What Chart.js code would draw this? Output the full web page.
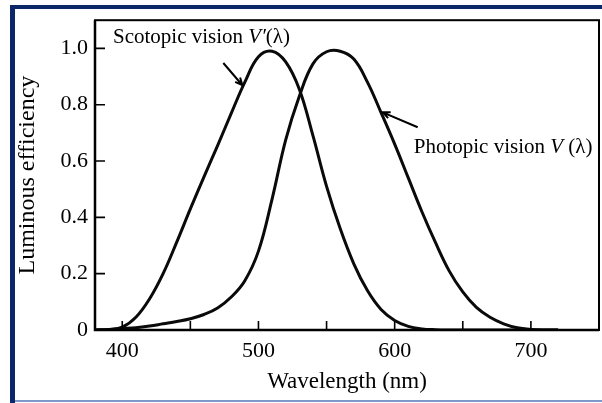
<!DOCTYPE html>
<html>
<head>
<meta charset="utf-8">
<script src="https://cdn.jsdelivr.net/npm/chart.js@4/dist/chart.umd.min.js"></script>
<style>
  html, body { margin: 0; padding: 0; background: #fff; overflow: hidden; }
  canvas { display: block; }
</style>
</head>
<body>
<canvas id="chart" width="602" height="403"></canvas>
<script>
// Wavelength grid (nm) and relative luminous efficiency of the eye
const wavelengths = [380, 390, 400, 410, 420, 430, 440, 450, 460, 470, 480, 490, 500, 510,
                     520, 530, 540, 550, 560, 570, 580, 590, 600, 610, 620, 630, 640, 650,
                     660, 670, 680, 690, 700, 710, 720];
// Scotopic (rod, night) vision V'(λ)
const scotopic = [0, 0.002, 0.01, 0.045, 0.11, 0.2, 0.312, 0.43, 0.544, 0.655, 0.769, 0.88, 0.97, 0.99,
                  0.952, 0.855, 0.69, 0.51, 0.36, 0.235, 0.14, 0.073, 0.034, 0.013, 0.004, 0.001, 0, 0,
                  0, 0, 0, 0, 0, 0, 0];
// Photopic (cone, day) vision V(λ)
const photopic = [0, 0.002, 0.005, 0.008, 0.014, 0.022, 0.03, 0.04, 0.055, 0.078, 0.117, 0.175, 0.28, 0.465,
                  0.675, 0.83, 0.945, 0.988, 0.99, 0.962, 0.88, 0.772, 0.66, 0.54, 0.42, 0.31, 0.21, 0.135,
                  0.08, 0.045, 0.022, 0.008, 0.002, 0, 0];

const yTickValues = [0, 0.2, 0.4, 0.6, 0.8, 1.0];
const xTickValues = [400, 450, 500, 550, 600, 650, 700];
const xLabelledTicks = [400, 500, 600, 700];

const SERIF = '"Liberation Serif", "Times New Roman", serif';
const INK = '#000000';

const toPoints = vals => wavelengths.map((w, i) => ({ x: w, y: vals[i] }));

// Writes a run of text pieces, some of them italic, starting at (x, y)
function drawRichText(ctx, x, y, size, parts) {
  ctx.textBaseline = 'middle';
  ctx.textAlign = 'left';
  let cx = x;
  for (const p of parts) {
    ctx.font = (p.italic ? 'italic ' : '') + size + 'px ' + SERIF;
    ctx.fillText(p.text, cx, y);
    cx += ctx.measureText(p.text).width;
  }
}

// Line with a small open arrowhead at its tip
function drawArrow(ctx, x0, y0, x1, y1) {
  const ang = Math.atan2(y1 - y0, x1 - x0);
  const head = 8, spread = 0.42;
  ctx.beginPath();
  ctx.moveTo(x0, y0);
  ctx.lineTo(x1, y1);
  ctx.moveTo(x1 - head * Math.cos(ang - spread), y1 - head * Math.sin(ang - spread));
  ctx.lineTo(x1, y1);
  ctx.lineTo(x1 - head * Math.cos(ang + spread), y1 - head * Math.sin(ang + spread));
  ctx.stroke();
}

const figurePlugin = {
  id: 'figure',
  beforeDraw(chart) {
    const ctx = chart.ctx;
    ctx.save();
    ctx.fillStyle = '#ffffff';
    ctx.fillRect(0, 0, chart.width, chart.height);
    // page frame
    ctx.fillStyle = '#0c2767';
    ctx.fillRect(10, 5, 5, 398);
    ctx.fillRect(10, 5, 592, 4);
    ctx.fillStyle = '#7d98c9';
    ctx.fillRect(15, 400, 587, 2);
    ctx.restore();
  },
  afterDatasetsDraw(chart) {
    const ctx = chart.ctx;
    const { left, right, top, bottom } = chart.chartArea;
    const xs = chart.scales.x, ys = chart.scales.y;
    ctx.save();
    ctx.strokeStyle = INK;
    ctx.fillStyle = INK;
    ctx.lineCap = 'butt';

    // plot box
    ctx.lineWidth = 2;
    ctx.strokeRect(left, top, right - left, bottom - top);
    ctx.lineWidth = 2.5;
    ctx.beginPath();
    ctx.moveTo(left, top);
    ctx.lineTo(left, bottom);
    ctx.lineTo(right, bottom);
    ctx.stroke();

    // inward tick marks
    ctx.lineWidth = 1.6;
    ctx.beginPath();
    for (const t of ys.ticks) {
      if (t.value === 0) continue;
      const py = ys.getPixelForValue(t.value);
      ctx.moveTo(left, py);
      ctx.lineTo(left + 10, py);
    }
    for (const t of xs.ticks) {
      const px = xs.getPixelForValue(t.value);
      ctx.moveTo(px, bottom);
      ctx.lineTo(px, bottom - 9);
    }
    ctx.stroke();

    // curve labels with pointer arrows
    ctx.lineWidth = 2;
    drawRichText(ctx, xs.getPixelForValue(393.2), ys.getPixelForValue(1.04), 21, [
      { text: 'Scotopic vision ' }, { text: 'V′', italic: true }, { text: '(λ)' }
    ]);
    drawArrow(ctx, xs.getPixelForValue(474.2), ys.getPixelForValue(0.948),
                   xs.getPixelForValue(488.2), ys.getPixelForValue(0.869));
    drawRichText(ctx, xs.getPixelForValue(614), ys.getPixelForValue(0.649), 21, [
      { text: 'Photopic vision ' }, { text: 'V', italic: true }, { text: ' (λ)' }
    ]);
    drawArrow(ctx, xs.getPixelForValue(616.9), ys.getPixelForValue(0.72),
                   xs.getPixelForValue(591.2), ys.getPixelForValue(0.773));

    // axis titles
    ctx.textAlign = 'center';
    ctx.textBaseline = 'alphabetic';
    ctx.font = '23px ' + SERIF;
    ctx.fillText('Wavelength (nm)', (left + right) / 2, 388);
    ctx.font = '24px ' + SERIF;
    ctx.translate(34, (top + bottom) / 2);
    ctx.rotate(-Math.PI / 2);
    ctx.fillText('Luminous efficiency', 0, 0);
    ctx.restore();
  }
};

const curveStyle = {
  borderColor: '#0a0a0a',
  borderWidth: 3,
  pointRadius: 0,
  fill: false,
  tension: 0.4
};

new Chart(document.getElementById('chart'), {
  type: 'line',
  data: {
    datasets: [
      Object.assign({ label: "Scotopic vision V′(λ)", data: toPoints(scotopic) }, curveStyle),
      Object.assign({ label: 'Photopic vision V(λ)', data: toPoints(photopic) }, curveStyle)
    ]
  },
  options: {
    responsive: false,
    animation: false,
    events: [],
    layout: { padding: { left: 0, top: 19, right: 3, bottom: 0 } },
    plugins: { legend: { display: false }, tooltip: { enabled: false } },
    scales: {
      x: {
        type: 'linear',
        min: 380,
        max: 750,
        afterFit(scale) { scale.height = 73; },
        afterBuildTicks(scale) { scale.ticks = xTickValues.map(v => ({ value: v })); },
        grid: { display: false, drawTicks: false },
        border: { display: false },
        ticks: {
          autoSkip: false,
          maxRotation: 0,
          padding: 8,
          color: INK,
          font: { family: SERIF, size: 22 },
          callback: v => xLabelledTicks.includes(v) ? String(v) : ''
        }
      },
      y: {
        type: 'linear',
        min: 0,
        max: 1.1,
        afterFit(scale) { scale.width = 95; },
        afterBuildTicks(scale) { scale.ticks = yTickValues.map(v => ({ value: v })); },
        grid: { display: false, drawTicks: false },
        border: { display: false },
        ticks: {
          padding: 7,
          color: INK,
          font: { family: SERIF, size: 22 },
          callback: v => v === 0 ? '0' : v.toFixed(1)
        }
      }
    }
  },
  plugins: [figurePlugin]
});
</script>
</body>
</html>
